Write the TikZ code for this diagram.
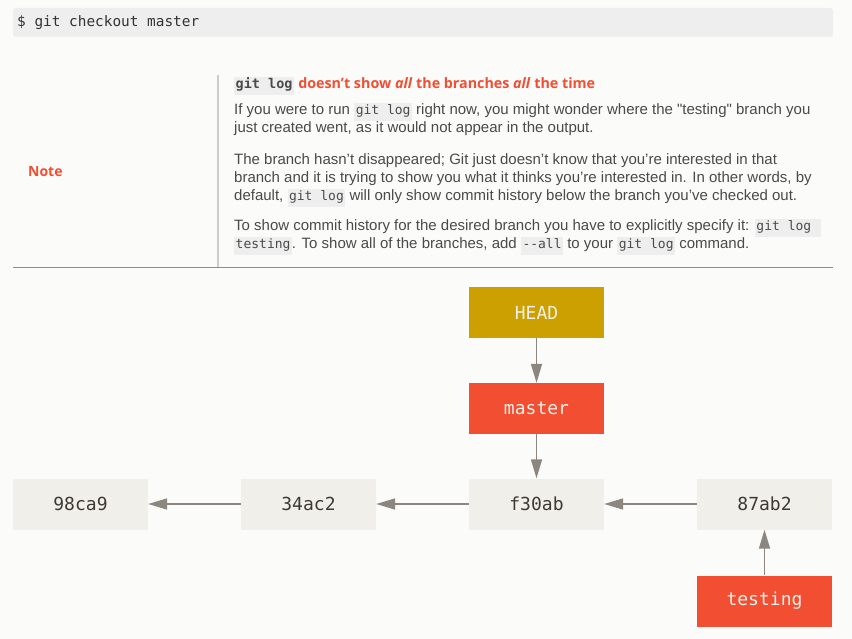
\documentclass[tikz,border=0pt]{standalone}
\usepackage{fontspec}
\setmainfont{Liberation Sans}
\newfontfamily\codefont{DejaVu Sans Mono}
\newfontfamily\headfont{Open Sans}
\usetikzlibrary{arrows.meta}
\definecolor{pagebg}{HTML}{FBFBF9}
\definecolor{codebg}{HTML}{EEEEEE}
\definecolor{txtgray}{HTML}{4A4A4A}
\definecolor{gitred}{HTML}{F14E32}
\definecolor{headgold}{HTML}{CCA000}
\definecolor{commitbg}{HTML}{F0EFE9}
\definecolor{arrowgray}{HTML}{8C8681}
\definecolor{commitfg}{HTML}{3D3A36}
\newcommand\cde[1]{{\setlength{\fboxsep}{1.5pt}\colorbox{codebg}{\fontsize{13}{15}\codefont\strut #1}}}
\newcommand\cdb[1]{{\setlength{\fboxsep}{1.5pt}\colorbox{codebg}{\fontsize{13.5}{15}\codefont\bfseries\strut #1}}}
\tikzset{
  txt/.style={anchor=base west, inner sep=0pt, text=txtgray, font=\fontsize{15}{17}\selectfont},
  box/.style={minimum width=135pt, minimum height=51pt, inner sep=0pt, font=\fontsize{18}{20}\codefont},
  commit/.style={box, fill=commitbg, text=commitfg},
  branch/.style={box, fill=gitred, text=commitbg},
  headbox/.style={box, fill=headgold, text=commitbg},
  arr/.style={draw=arrowgray, line width=1.6pt, -{Triangle[length=19pt,width=11pt]}}
}
\begin{document}
\begin{tikzpicture}[x=1pt,y=-1pt]
\fill[pagebg] (0,0) rectangle (852,639);
\useasboundingbox (0,0) rectangle (852,639);
% command box
\node[fill=codebg, rounded corners=3pt, minimum width=820pt, minimum height=29pt, inner sep=0pt] (cmdbox) at (423,22.5) {};
\node[anchor=base west, inner sep=0pt, text=black!80, font=\fontsize{14.4}{16}\codefont] (cmd) at (17,27) {\$ git checkout master};
% note table
\draw[black!20, line width=2pt] (218,75) coordinate (vtop) -- (218,268) coordinate (vbot);
\draw[black!45, line width=1pt] (13,268) coordinate (hl) -- (833,268) coordinate (hr);
\node[anchor=base west, inner sep=0pt, text=gitred, font=\fontsize{14}{17}\headfont\bfseries] (note) at (28,177) {Note};
\node[txt] (title) at (234,89) {\cdb{git log} {\headfont\fontsize{14.3}{17}\selectfont\bfseries\color{gitred}doesn’t show \textit{all} the branches \textit{all} the time}};
\node[txt] (p1a) at (234,115) {If you were to run \cde{git log} right now, you might wonder where the \textquotedbl testing\textquotedbl{} branch you};
\node[txt] (p1b) at (234,133) {just created went, as it would not appear in the output.};
\node[txt] (p2a) at (234,165) {The branch hasn’t disappeared; Git just doesn’t know that you’re interested in that};
\node[txt] (p2b) at (234,183) {branch and it is trying to show you what it thinks you’re interested in. In other words, by};
\node[txt] (p2c) at (234,201) {default, \cde{git log} will only show commit history below the branch you’ve checked out.};
\node[txt] (p3a) at (234,231) {To show commit history for the desired branch you have to explicitly specify it: \cde{git log\ }};
\node[txt] (p3b) at (234,249) {\cde{testing}. To show all of the branches, add \cde{-{}-all} to your \cde{git log} command.};
% diagram
\node[headbox] (head) at (536.5,312.5) {HEAD};
\node[branch] (master) at (536.5,408.5) {master};
\node[commit] (c1) at (80.5,504) {98ca9};
\node[commit] (c2) at (308.5,504) {34ac2};
\node[commit] (c3) at (536.5,504) {f30ab};
\node[commit] (c4) at (764.5,504) {87ab2};
\node[branch] (testing) at (764.5,601) {testing};
\draw[arr] (head) -- (master);
\draw[arr] (master) -- (c3);
\draw[arr] (c2) -- (c1);
\draw[arr] (c3) -- (c2);
\draw[arr] (c4) -- (c3);
\draw[arr] (testing) -- (c4);
\end{tikzpicture}
\end{document}
